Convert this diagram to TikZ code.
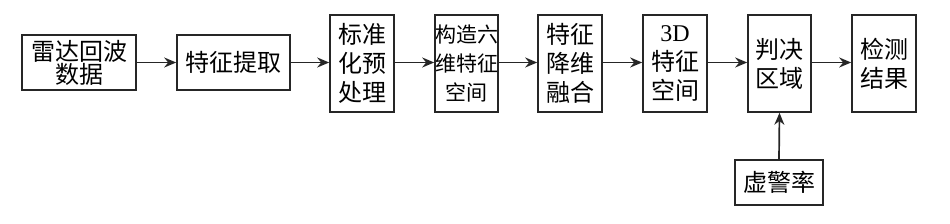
\documentclass[tikz,border=0pt]{standalone}
\usepackage{fontspec}
\setmainfont{Liberation Serif}
\newfontfamily\cjk{Noto Sans CJK SC}
\usetikzlibrary{arrows.meta,positioning}
\tikzset{
  blk/.style={draw=black!85, line width=1.6pt, align=center, inner sep=0pt,
    font=\fontsize{24}{29}\selectfont\cjk},
  wide/.style={blk, minimum height=55pt},
  tall/.style={blk, minimum width=64pt, minimum height=97pt},
  arr/.style={-{Stealth[length=12pt, width=10pt]}, line width=1.7pt, color=black!85},
}
\begin{document}
\begin{tikzpicture}[x=1pt, y=-1pt]
  \useasboundingbox (0,0) rectangle (950,224);
  % main chain
  \node[wide, minimum width=114pt] (radar) at (79,62.5) {雷达回波\\[-6pt]数据};
  \node[wide, minimum width=113pt] (feat) at (233.5,62.5) {特征提取};
  \node[tall] (norm) at (362,63.5) {标准\\化预\\处理};
  \node[tall, minimum width=63pt, font=\fontsize{21}{29}\selectfont\cjk] (six) at (466.5,63.5) {构造六\\维特征\\空间};
  \node[tall] (fuse) at (570,63.5) {特征\\降维\\融合};
  \node[tall] (space) at (675,63.5) {{\rmfamily 3D}\\特征\\空间};
  \node[tall, minimum width=63pt] (decide) at (779.5,63.5) {判决\\区域};
  \node[tall] (result) at (884,63.5) {检测\\结果};
  % false alarm input
  \node[blk, minimum width=88pt, minimum height=45pt] (pfa) at (779,182.5) {虚警率};
  \draw[arr] (radar.east) -- (feat.west);
  \draw[arr] (feat.east) -- (norm.west |- feat.east);
  \draw[arr] (norm.east |- feat.east) -- (six.west |- feat.east);
  \draw[arr] (six.east |- feat.east) -- (fuse.west |- feat.east);
  \draw[arr] (fuse.east |- feat.east) -- (space.west |- feat.east);
  \draw[arr] (space.east |- feat.east) -- (decide.west |- feat.east);
  \draw[arr] (decide.east |- feat.east) -- (result.west |- feat.east);
  \draw[arr] (pfa.north) -- (decide.south);
\end{tikzpicture}
\end{document}
